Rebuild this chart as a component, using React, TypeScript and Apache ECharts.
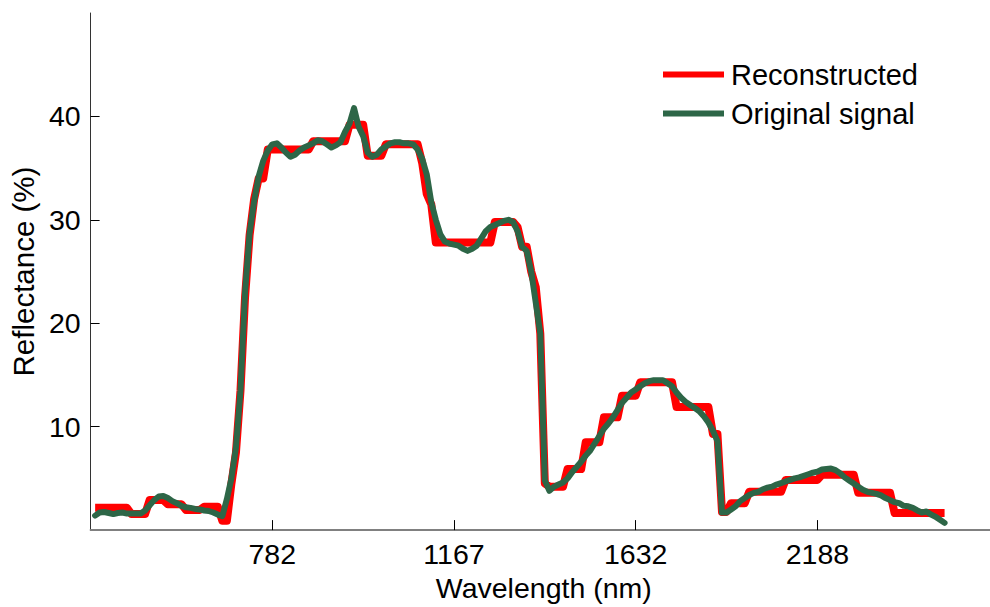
import React, { useEffect, useRef } from "react";
import * as echarts from "echarts";

// Band index of the first sample (x axis is band number, labelled by wavelength)
const firstBand = 1;

// Tick positions (band numbers) and their wavelength labels (nm)
const tickBands = [40, 80, 120, 160];
const tickLabels = ["782", "1167", "1632", "2188"];
const yTicks = [10, 20, 30, 40];

const seriesNames = ["Reconstructed", "Original signal"];

// Original signal reflectance (%), one value per band
const original = [
  1.4, 1.7, 1.75, 1.65, 1.55, 1.65, 1.7, 1.6, 1.6, 1.6,
  1.6, 1.9, 2.4, 2.9, 3.25, 3.3, 3.1, 2.8, 2.6, 2.35,
  2.2, 2.15, 2.05, 2.0, 1.9, 1.85, 1.7, 1.5, 1.35, 3.0,
  5.0, 8.0, 13.5, 23.0, 28.7, 31.8, 34.2, 35.7, 36.7, 37.3,
  37.4, 37.0, 36.5, 36.1, 36.3, 36.7, 37.0, 37.2, 37.4, 37.7,
  37.6, 37.3, 37.0, 37.2, 37.5, 38.5, 39.3, 40.8, 39.0, 38.1,
  36.5, 36.1, 36.3, 36.8, 37.1, 37.4, 37.5, 37.5, 37.4, 37.4,
  37.3, 36.8, 35.9, 34.4, 31.7, 30.0, 28.6, 27.9, 27.7, 27.6,
  27.5, 27.2, 27.0, 27.2, 27.5, 28.2, 28.9, 29.3, 29.5, 29.7,
  29.9, 30.0, 29.8, 28.9, 27.4, 27.0, 25.0, 22.0, 19.0, 4.8,
  3.8, 4.2, 4.4, 4.6, 5.0, 5.6, 6.1, 6.6, 7.2, 7.7,
  8.4, 9.1, 9.8, 10.3, 10.9, 11.6, 12.3, 12.8, 13.3, 13.6,
  13.9, 14.2, 14.4, 14.5, 14.5, 14.5, 14.2, 13.9, 13.3, 12.8,
  12.4, 12.1, 11.8, 11.5, 11.0, 10.4, 9.6, 8.6, 1.7, 1.7,
  2.0, 2.3, 2.8, 3.1, 3.4, 3.6, 3.7, 3.95, 4.1, 4.2,
  4.4, 4.55, 4.7, 4.85, 5.0, 5.1, 5.25, 5.4, 5.55, 5.65,
  5.85, 5.9, 5.95, 5.8, 5.5, 5.1, 4.8, 4.5, 4.2, 3.9,
  3.7, 3.6, 3.5, 3.35, 3.1, 2.9, 2.7, 2.6, 2.35, 2.3,
  2.15, 1.9, 1.7, 1.8, 1.5, 1.3, 1.0, 0.7,
];

// Reconstructed reflectance (%), one value per band (piecewise constant)
const reconstructed = [
  2.15, 2.15, 2.15, 2.15, 2.15, 2.15, 2.15, 2.15, 1.55, 1.55,
  1.55, 1.55, 2.9, 2.9, 2.9, 2.9, 2.5, 2.5, 2.5, 2.5,
  1.95, 1.95, 1.95, 1.95, 2.25, 2.25, 2.25, 2.25, 0.9, 0.9,
  4.5, 7.5, 13.5, 22.5, 28.5, 32.0, 34.0, 34.0, 36.8, 36.8,
  36.8, 36.8, 36.8, 36.8, 36.8, 36.8, 36.8, 36.8, 37.6, 37.6,
  37.6, 37.6, 37.6, 37.6, 37.6, 37.6, 39.2, 39.2, 39.2, 39.2,
  36.2, 36.2, 36.2, 36.2, 37.3, 37.3, 37.3, 37.3, 37.3, 37.3,
  37.3, 37.3, 35.5, 32.5, 31.5, 27.8, 27.8, 27.8, 27.8, 27.8,
  27.8, 27.8, 27.8, 27.8, 27.8, 27.8, 27.8, 27.8, 29.8, 29.8,
  29.8, 29.8, 29.8, 29.3, 27.4, 27.4, 25.0, 23.5, 19.0, 4.5,
  4.2, 4.2, 4.2, 4.2, 5.9, 5.9, 5.9, 5.9, 8.5, 8.5,
  8.5, 8.5, 10.9, 10.9, 10.9, 10.9, 13.0, 13.0, 13.0, 13.0,
  14.3, 14.3, 14.3, 14.3, 14.3, 14.3, 14.3, 14.3, 11.9, 11.9,
  11.9, 11.9, 11.9, 11.9, 11.9, 11.9, 9.3, 9.3, 1.75, 1.75,
  2.6, 2.6, 2.6, 2.6, 3.7, 3.7, 3.7, 3.7, 3.7, 3.7,
  3.7, 3.7, 4.85, 4.85, 4.85, 4.85, 4.85, 4.85, 4.85, 4.85,
  5.35, 5.35, 5.35, 5.35, 5.35, 5.35, 5.35, 5.35, 3.6, 3.6,
  3.6, 3.6, 3.6, 3.6, 3.6, 3.6, 1.65, 1.65, 1.65, 1.65,
  1.65, 1.65, 1.65, 1.65, 1.65, 1.65, 1.65, 1.65,
];

const FONT = "'Liberation Sans', Arial, Helvetica, sans-serif";

export default function App() {
  const ref = useRef<HTMLDivElement>(null);

  useEffect(() => {
    if (!ref.current) return;
    const chart = echarts.init(ref.current, null, { renderer: "svg" });
    const toPairs = (arr: number[]) => arr.map((v, i) => [firstBand + i, v]);
    const labelFor = (v: number) => {
      const k = tickBands.indexOf(v);
      return k >= 0 ? tickLabels[k] : "";
    };
    chart.setOption({
      animation: false,
      textStyle: { fontFamily: FONT },
      grid: { left: 90, right: 0, top: 13, bottom: 69.5, containLabel: false },
      legend: {
        orient: "vertical",
        left: 658,
        top: 55,
        itemWidth: 61,
        itemHeight: 6,
        itemGap: 10,
        icon: "rect",
        selectedMode: false,
        textStyle: { fontSize: 29, color: "#000", fontFamily: FONT, padding: [0, 0, 0, 2] },
        data: seriesNames,
      },
      xAxis: {
        type: "value",
        min: 0,
        max: 198,
        interval: 40,
        name: "Wavelength (nm)",
        nameLocation: "middle",
        nameGap: 39,
        nameTextStyle: { fontSize: 28.5, color: "#000", fontFamily: FONT, padding: [0, 0, 0, 7] },
        axisLine: { show: true, lineStyle: { color: "#808080", width: 2 } },
        axisTick: {
          show: true,
          inside: true,
          length: 10,
          customValues: tickBands,
          lineStyle: { color: "#000", width: 1 },
        },
        axisLabel: {
          customValues: tickBands,
          formatter: (v: number) => labelFor(v),
          fontSize: 28.5,
          color: "#000",
          margin: 9,
          fontFamily: FONT,
        },
        splitLine: { show: false },
      },
      yAxis: {
        type: "value",
        min: 0,
        max: 50,
        interval: 10,
        name: "Reflectance (%)",
        nameLocation: "middle",
        nameGap: 51,
        nameTextStyle: { fontSize: 29.5, color: "#000", fontFamily: FONT },
        axisLine: { show: true, lineStyle: { color: "#333", width: 1 } },
        axisTick: {
          show: true,
          inside: true,
          length: 9,
          customValues: yTicks,
          lineStyle: { color: "#000", width: 1 },
        },
        axisLabel: {
          customValues: yTicks,
          fontSize: 28.5,
          color: "#000",
          margin: 10,
          fontFamily: FONT,
        },
        splitLine: { show: false },
      },
      series: [
        {
          name: seriesNames[0],
          type: "line",
          data: toPairs(reconstructed),
          showSymbol: false,
          symbol: "none",
          itemStyle: { color: "#ff0000" },
          lineStyle: { color: "#ff0000", width: 8, join: "round", cap: "butt" },
          z: 2,
        },
        {
          name: seriesNames[1],
          type: "line",
          data: toPairs(original),
          showSymbol: false,
          symbol: "none",
          itemStyle: { color: "#2d6647" },
          lineStyle: { color: "#2d6647", width: 6, join: "round", cap: "round" },
          z: 3,
        },
      ],
    });
    return () => chart.dispose();
  }, []);

  return (
    <div
      ref={ref}
      style={{ position: "fixed", left: 0, top: 0, width: 990, height: 607, background: "#fff" }}
    />
  );
}
